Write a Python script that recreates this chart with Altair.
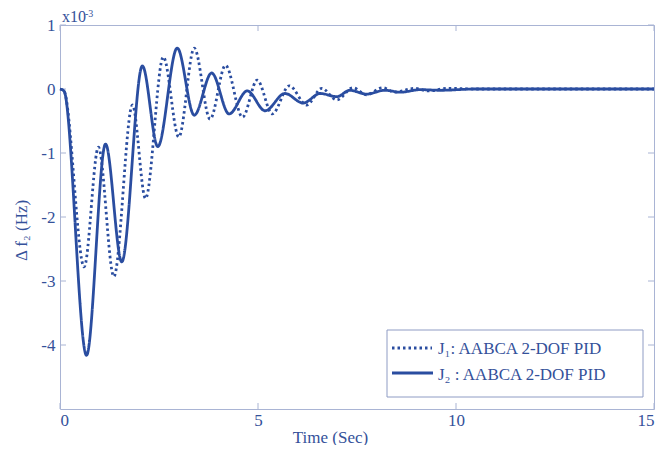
import altair as alt
import pandas as pd

# ---- data (x1e-3 Hz) ----
t_j1 = [0, 0.1, 0.61, 0.97, 1.36, 1.83, 2.16, 2.61, 3.0, 3.39, 3.79, 4.18, 4.61, 4.98,
        5.36, 5.79, 6.23, 6.61, 6.99, 7.40, 7.74, 8.15, 8.45, 8.96, 9.3, 9.8, 10.5, 15]
f_j1 = [0, -0.03, -2.78, -0.91, -2.93, -0.25, -1.71, 0.50, -0.75, 0.64, -0.47, 0.37, -0.44, 0.14,
        -0.39, 0.05, -0.25, 0.01, -0.17, 0.02, -0.09, 0.02, -0.05, 0.01, -0.03, 0.01, 0, 0]

t_j2 = [0, 0.1, 0.67, 1.15, 1.56, 2.08, 2.47, 2.96, 3.39, 3.83, 4.27, 4.73, 5.18, 5.68,
        6.14, 6.57, 6.99, 7.32, 7.74, 8.2, 8.6, 9.1, 9.6, 10.5, 15]
f_j2 = [0, -0.03, -4.16, -0.86, -2.70, 0.36, -0.90, 0.64, -0.41, 0.25, -0.39, -0.03, -0.34, -0.07,
        -0.22, -0.07, -0.12, -0.02, -0.08, -0.02, -0.05, -0.01, -0.02, 0, 0]

series_names = ["J₁: AABCA 2-DOF PID", "J₂ : AABCA 2-DOF PID"]
x_ticks = [0, 5, 10, 15]
y_ticks = [-4, -3, -2, -1, 0, 1]

df = pd.concat([
    pd.DataFrame({"t": t_j1, "f": f_j1, "s": series_names[0]}),
    pd.DataFrame({"t": t_j2, "f": f_j2, "s": series_names[1]}),
], ignore_index=True)

BLUE = "#2a4da0"
AX = "#a9b4d4"
TXT = "#34519a"
FONT = "Liberation Serif"
W, H = 594, 384

x_scale = alt.Scale(domain=[0, 15], nice=False, zero=False)
y_scale = alt.Scale(domain=[-5, 1], nice=False, zero=False)

LABEL_EXPR = "datum.value < 0 ? '-' + abs(datum.value) : '' + datum.value"

x_axis = alt.Axis(values=x_ticks, title="Time (Sec)", grid=False, domain=False, ticks=False,
                  labelPadding=3, titleX=270, titleY=33, titleBaseline="alphabetic",
                  titleAlign="center", titleAnchor="start")
y_axis = alt.Axis(values=y_ticks, title="Δ f₂ (Hz)", grid=False, domain=False, ticks=False,
                  labelPadding=5, labelExpr=LABEL_EXPR, titleAngle=270, titleX=-39, titleY=205,
                  titleBaseline="middle", titleAlign="center", titleAnchor="start")

dash_scale = alt.Scale(domain=series_names, range=[[2.5, 3], [1, 0]])

lines = alt.Chart(df).mark_line(interpolate="monotone", strokeWidth=2.8, color=BLUE).encode(
    x=alt.X("t:Q", scale=x_scale, axis=x_axis),
    y=alt.Y("f:Q", scale=y_scale, axis=y_axis),
    strokeDash=alt.StrokeDash("s:N", scale=dash_scale, legend=None),
    order=alt.Order("t:Q"),
)

xt = pd.DataFrame({"t": x_ticks})
yt = pd.DataFrame({"f": y_ticks})
tick_bottom = alt.Chart(xt).mark_rule(color=AX, strokeWidth=1).encode(
    x=alt.X("t:Q", scale=x_scale, axis=x_axis), y=alt.value(H), y2=alt.value(H - 6))
tick_top = alt.Chart(xt).mark_rule(color=AX, strokeWidth=1).encode(
    x=alt.X("t:Q", scale=x_scale, axis=x_axis), y=alt.value(0), y2=alt.value(6))
tick_left = alt.Chart(yt).mark_rule(color=AX, strokeWidth=1).encode(
    y=alt.Y("f:Q", scale=y_scale, axis=y_axis), x=alt.value(0), x2=alt.value(6))
tick_right = alt.Chart(yt).mark_rule(color=AX, strokeWidth=1).encode(
    y=alt.Y("f:Q", scale=y_scale, axis=y_axis), x=alt.value(W), x2=alt.value(W - 6))

one = pd.DataFrame({"k": [0]})
exp_base = alt.Chart(one).mark_text(font=FONT, fontSize=16, color=TXT, align="left",
                                    baseline="alphabetic").encode(
    x=alt.value(2), y=alt.value(-3), text=alt.value("x10"))
exp_pow = alt.Chart(one).mark_text(font=FONT, fontSize=10, color=TXT, align="left",
                                   baseline="alphabetic").encode(
    x=alt.value(25), y=alt.value(-8), text=alt.value("-3"))

# legend (box, samples, labels)
leg_box = alt.Chart(one).mark_rect(fill="white", stroke="#8f9cc4", strokeWidth=1).encode(
    x=alt.value(327), x2=alt.value(583), y=alt.value(305), y2=alt.value(372))
leg_l1 = alt.Chart(one).mark_rule(color=BLUE, strokeWidth=2.8, strokeDash=[2.5, 3]).encode(
    x=alt.value(332), x2=alt.value(372), y=alt.value(323))
leg_l2 = alt.Chart(one).mark_rule(color=BLUE, strokeWidth=2.8).encode(
    x=alt.value(332), x2=alt.value(373), y=alt.value(348))
leg_t1 = alt.Chart(one).mark_text(font=FONT, fontSize=17, color=TXT, align="left",
                                  baseline="middle").encode(
    x=alt.value(378), y=alt.value(324), text=alt.value(series_names[0]))
leg_t2 = alt.Chart(one).mark_text(font=FONT, fontSize=17, color=TXT, align="left",
                                  baseline="middle").encode(
    x=alt.value(378), y=alt.value(350), text=alt.value(series_names[1]))

chart = alt.layer(
    tick_bottom, tick_top, tick_left, tick_right, lines, exp_base, exp_pow,
    leg_box, leg_l1, leg_l2, leg_t1, leg_t2,
).properties(
    width=W, height=H,
    autosize=alt.AutoSizeParams(type="none"),
    padding={"left": 52, "top": 17, "right": 9, "bottom": 36},
).configure_view(
    stroke=AX, strokeWidth=1
).configure_axis(
    labelFont=FONT, labelFontSize=17, labelColor=TXT,
    titleFont=FONT, titleFontSize=17, titleColor=TXT, titleFontWeight="normal",
)

chart.save("out.html", embed_options={"renderer": "svg", "actions": False})
